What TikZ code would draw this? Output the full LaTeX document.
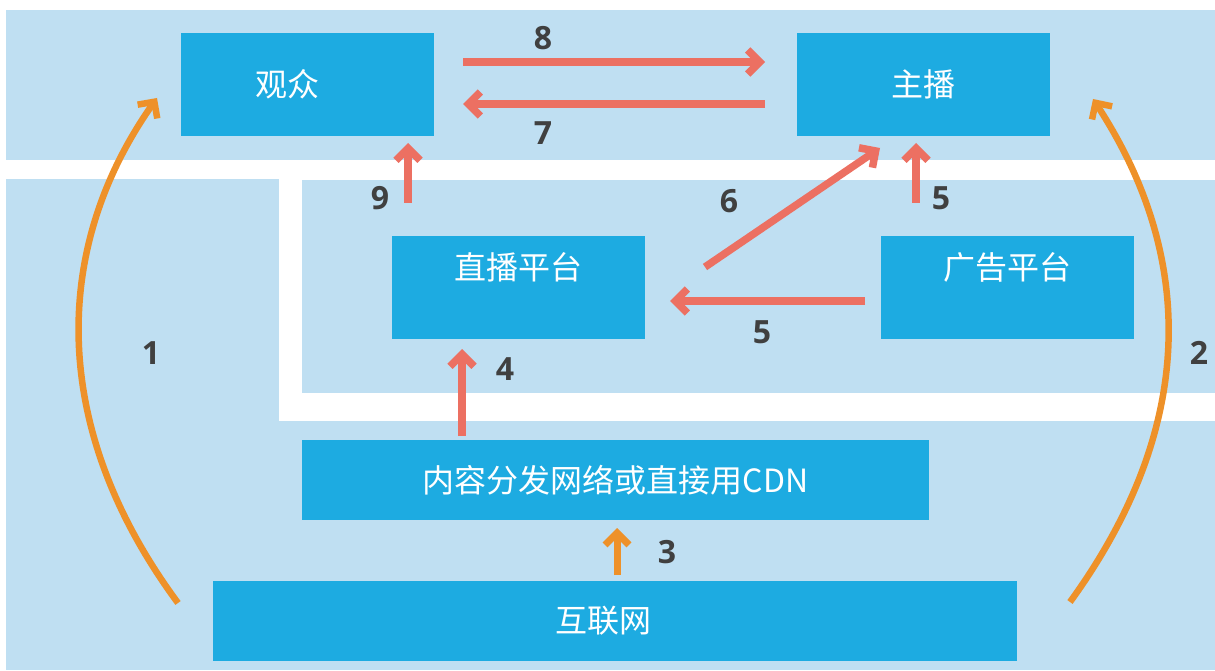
\documentclass[tikz,border=0pt]{standalone}
\usepackage{fontspec}
\newfontfamily\cjk{Noto Sans CJK SC}
\newfontfamily\numfont{Open Sans}
\usetikzlibrary{arrows.meta}
\definecolor{bgblue}{HTML}{BFDFF2}
\definecolor{boxblue}{HTML}{1DABE1}
\definecolor{redarr}{HTML}{EC7062}
\definecolor{orarr}{HTML}{EE9129}
\definecolor{numgray}{HTML}{404040}
\begin{document}
\begin{tikzpicture}[x=1pt,y=-1pt,
  bg/.style={fill=bgblue,draw=none},
  box/.style={fill=boxblue,draw=none,inner sep=0pt,text=white,
    minimum width=253pt,minimum height=103pt,font=\cjk\fontsize{32}{36}\selectfont},
  lbl/.style={text=white,font=\cjk\fontsize{32}{36}\selectfont,inner sep=0pt},
  num/.style={font=\numfont\bfseries\fontsize{32}{36}\selectfont,text=numgray,inner sep=0pt},
  redarrow/.style={draw=redarr,line width=7.5pt,
    -{Straight Barb[length=12pt,width=24pt,line cap=butt]}},
  orarrow/.style={draw=orarr,line width=6.5pt,
    -{Straight Barb[length=12pt,width=24pt,line cap=butt]}}
]
\useasboundingbox (0,0) rectangle (1215,671);
% background regions
\fill[bg] (6,10) rectangle (1215,160);
\fill[bg] (6,179) rectangle (279,670);
\fill[bg] (6,421) rectangle (1215,670);
\fill[bg] (302,180) rectangle (1215,393);

% boxes
\node[box,label={[lbl,xshift=-20pt]center:观众}] (viewer) at (307.5,84.5) {};
\node[box] (anchor) at (923,84.5) {主播};
\node[box,label={[lbl,yshift=20pt]center:直播平台}] (live) at (518,287) {};
\node[box,label={[lbl,yshift=20pt]center:广告平台}] (ad) at (1007,287) {};
\node[box,minimum width=627pt,minimum height=80pt] (cdn) at (615.5,480) {内容分发网络或直接用CDN};
\node[box,minimum width=804pt,minimum height=80pt,label={[lbl,xshift=-12pt]center:互联网}] (net) at (615,621) {};

% arrow end points
\coordinate (a8s) at (463,62);   \coordinate (a8e) at (765,62);
\coordinate (a7s) at (765,104);  \coordinate (a7e) at (463,104);
\coordinate (a9s) at (408,203);  \coordinate (a9e) at (408,143);
\coordinate (a6s) at (705,267);  \coordinate (a6e) at (880,148);
\coordinate (a5s) at (916,203);  \coordinate (a5e) at (916,143);
\coordinate (b5s) at (865,301);  \coordinate (b5e) at (670,301);
\coordinate (a4s) at (462,436);  \coordinate (a4e) at (462,349);
\coordinate (a3s) at (617,575);  \coordinate (a3e) at (617,528);
\coordinate (a1s) at (178,603);  \coordinate (a1e) at (157,98);
\coordinate (a2s) at (1070,602); \coordinate (a2e) at (1093,99);

\draw[redarrow] (a8s) -- (a8e);
\draw[redarrow] (a7s) -- (a7e);
\draw[redarrow] (a9s) -- (a9e);
\draw[redarrow] (a6s) -- (a6e);
\draw[redarrow] (a5s) -- (a5e);
\draw[redarrow] (b5s) -- (b5e);
\draw[redarrow] (a4s) -- (a4e);
\draw[orarrow,line width=7pt] (a3s) -- (a3e);
\draw[orarrow] (a1s) .. controls (50,430) and (50,250) .. (a1e);
\draw[orarrow] (a2s) .. controls (1195,430) and (1198,260) .. (a2e);

% labels
\node[num] (n8) at (543,38) {8};
\node[num] (n7) at (543,133) {7};
\node[num] (n9) at (380,198) {9};
\node[num] (n6) at (729,201) {6};
\node[num] (n5a) at (941,198) {5};
\node[num] (n5b) at (762,332) {5};
\node[num] (n4) at (505,369) {4};
\node[num] (n3) at (667,552) {3};
\node[num] (n1) at (151,353) {1};
\node[num] (n2) at (1199,353) {2};
\end{tikzpicture}
\end{document}
